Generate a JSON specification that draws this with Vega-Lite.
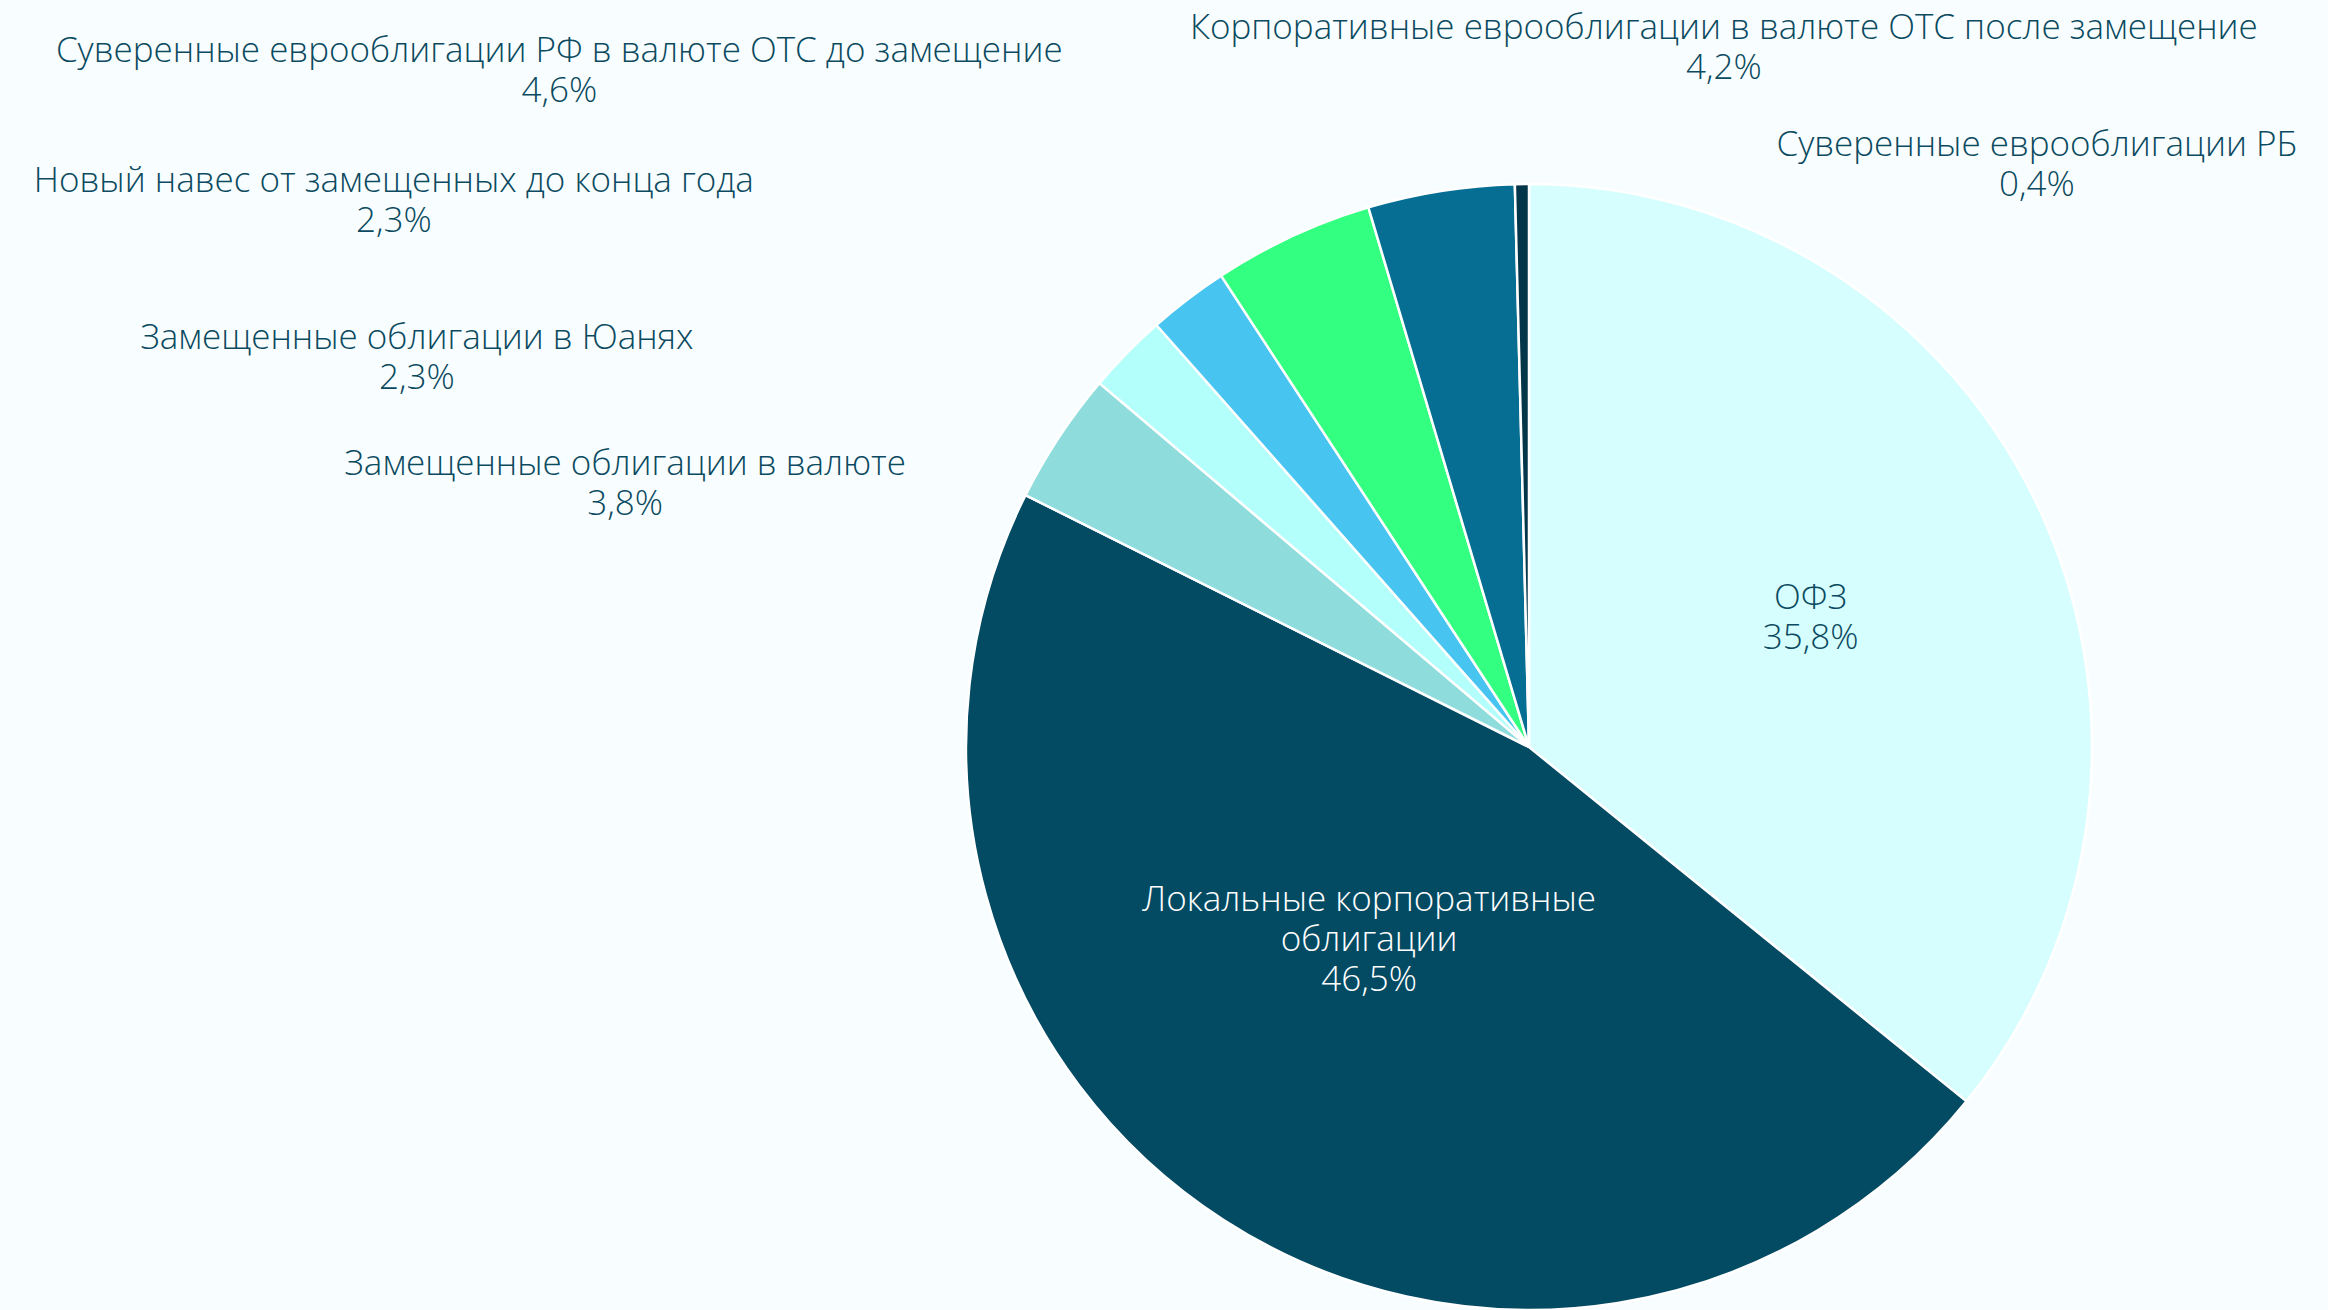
{
  "$schema": "https://vega.github.io/schema/vega-lite/v6.json",
  "width": 1598,
  "height": 1126,
  "autosize": {"type": "none"},
  "padding": {"left": 730, "top": 184, "right": 0, "bottom": 0},
  "background": "#f8feff",
  "config": {
    "view": {"stroke": null},
    "text": {"font": "Open Sans", "fontWeight": 300, "fontSize": 35, "lineHeight": 40, "lineBreak": "\n", "align": "center", "baseline": "middle", "fill": "#0b4a60"}
  },
  "data": {
    "values": [
      {"category": "ОФЗ", "value": 35.8, "order": 1, "label": "ОФЗ\n35,8%"},
      {"category": "Локальные корпоративные облигации", "value": 46.5, "order": 2, "label": "Локальные корпоративные\nоблигации\n46,5%"},
      {"category": "Замещенные облигации  в валюте", "value": 3.8, "order": 3, "label": "Замещенные облигации  в валюте\n3,8%"},
      {"category": "Замещенные облигации  в Юанях", "value": 2.3, "order": 4, "label": "Замещенные облигации  в Юанях\n2,3%"},
      {"category": "Новый навес от замещенных до конца года", "value": 2.3, "order": 5, "label": "Новый навес от замещенных до конца года\n2,3%"},
      {"category": "Суверенные еврооблигации РФ в валюте ОТС до замещение", "value": 4.6, "order": 6, "label": "Суверенные еврооблигации РФ в валюте ОТС до замещение\n4,6%"},
      {"category": "Корпоративные еврооблигации в валюте ОТС после замещение", "value": 4.2, "order": 7, "label": "Корпоративные еврооблигации в валюте ОТС после замещение\n4,2%"},
      {"category": "Суверенные еврооблигации РБ", "value": 0.4, "order": 8, "label": "Суверенные еврооблигации РБ\n0,4%"}
    ]
  },
  "transform": [
    {"stack": "value", "groupby": [], "sort": [{"field": "order", "order": "ascending"}], "as": ["v0", "v1"]},
    {"calculate": "(datum.v0 + datum.v1) / 2", "as": "mid"}
  ],
  "layer": [
    {
      "mark": {"type": "arc", "outerRadius": 563, "stroke": "#ffffff", "strokeWidth": 2.5},
      "encoding": {
        "theta": {"field": "v0", "type": "quantitative", "scale": {"domain": [0, 99.9]}},
        "theta2": {"field": "v1"},
        "color": {
          "field": "category", "type": "nominal", "legend": null,
          "scale": {
            "domain": ["ОФЗ", "Локальные корпоративные облигации", "Замещенные облигации  в валюте", "Замещенные облигации  в Юанях", "Новый навес от замещенных до конца года", "Суверенные еврооблигации РФ в валюте ОТС до замещение", "Корпоративные еврооблигации в валюте ОТС после замещение", "Суверенные еврооблигации РБ"],
            "range": ["#d6feff", "#034a63", "#8fdcdc", "#b3fffc", "#48c4f1", "#33ff80", "#066e93", "#04364a"]
          }
        }
      }
    },
    {
      "transform": [{"filter": "datum.order == 1"}],
      "mark": {"type": "text", "radius": 312, "dy": -15},
      "encoding": {"theta": {"field": "mid", "type": "quantitative", "scale": {"domain": [0, 99.9]}}, "text": {"field": "label"}}
    },
    {
      "transform": [{"filter": "datum.order == 2"}],
      "mark": {"type": "text", "radius": 249, "dx": -25, "dy": -56, "fill": "#ffffff"},
      "encoding": {"theta": {"field": "mid", "type": "quantitative", "scale": {"domain": [0, 99.9]}}, "text": {"field": "label"}}
    },
    {
      "transform": [{"filter": "datum.order == 3"}],
      "mark": {"type": "text", "radius": 563, "dx": -434, "dy": 27},
      "encoding": {"theta": {"field": "mid", "type": "quantitative", "scale": {"domain": [0, 99.9]}}, "text": {"field": "label"}}
    },
    {
      "transform": [{"filter": "datum.order == 4"}],
      "mark": {"type": "text", "radius": 563, "dx": -710, "dy": -15},
      "encoding": {"theta": {"field": "mid", "type": "quantitative", "scale": {"domain": [0, 99.9]}}, "text": {"field": "label"}}
    },
    {
      "transform": [{"filter": "datum.order == 5"}],
      "mark": {"type": "text", "radius": 563, "dx": -794, "dy": -118},
      "encoding": {"theta": {"field": "mid", "type": "quantitative", "scale": {"domain": [0, 99.9]}}, "text": {"field": "label"}}
    },
    {
      "transform": [{"filter": "datum.order == 6"}],
      "mark": {"type": "text", "radius": 563, "dx": -733, "dy": -185},
      "encoding": {"theta": {"field": "mid", "type": "quantitative", "scale": {"domain": [0, 99.9]}}, "text": {"field": "label"}}
    },
    {
      "transform": [{"filter": "datum.order == 7"}],
      "mark": {"type": "text", "radius": 563, "dx": 283, "dy": -163},
      "encoding": {"theta": {"field": "mid", "type": "quantitative", "scale": {"domain": [0, 99.9]}}, "text": {"field": "label"}}
    },
    {
      "transform": [{"filter": "datum.order == 8"}],
      "mark": {"type": "text", "radius": 563, "dx": 515, "dy": -39},
      "encoding": {"theta": {"field": "mid", "type": "quantitative", "scale": {"domain": [0, 99.9]}}, "text": {"field": "label"}}
    }
  ]
}
